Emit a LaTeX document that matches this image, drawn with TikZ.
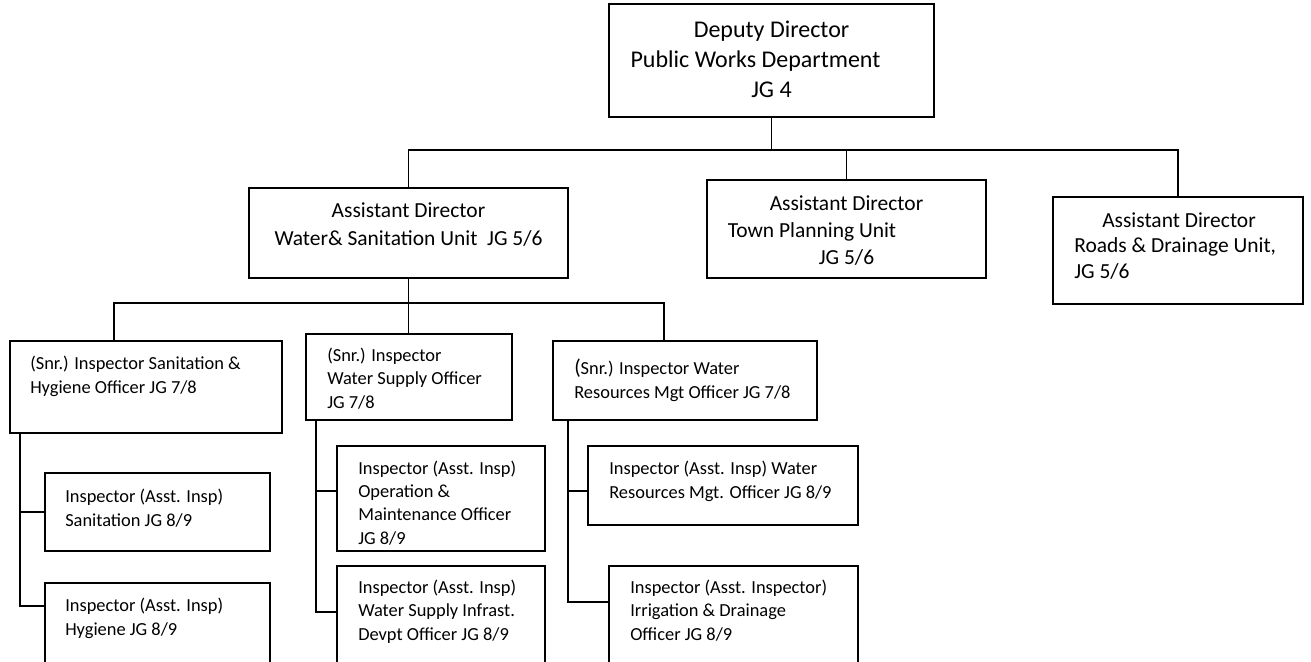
\documentclass[tikz,border=0pt]{standalone}
\usepackage{fontspec}
\setmainfont{Carlito}
\newdimen\pxu \pxu=0.75pt
% a framed box given by its corners (x1,y1) and (x2,y2), in px
\newcommand\unitbox[5]{\node[orgbox, minimum width={(#4-#2)*0.75pt}, minimum height={(#5-#3)*0.75pt}] (#1) at (#2,#3) {};}
% trailing blank space at the end of a centred line
\newcommand\trail[1]{\hspace*{#1\pxu}\mbox{}}
\begin{document}
\begin{tikzpicture}[x=0.75pt,y=-0.75pt,
  orgbox/.style={draw=black, line width=1pt, inner sep=0pt, outer sep=0pt, anchor=north west},
  link/.style={draw=black, line width=1pt},
  % multi-line texts are placed by the baseline of their last line
  toptxt/.style={inner sep=0pt, align=center, anchor=base, font=\fontsize{18}{22.5}\selectfont},
  midtxt/.style={inner sep=0pt, align=center, anchor=base},
  lowtxt/.style={inner sep=0pt, align=left, anchor=base west, font=\fontsize{13.8}{17.5}\selectfont}]
\useasboundingbox (0,0) rectangle (1311,661);
\fill[white] (0,0) rectangle (1311,661);
\begin{scope}
\clip (0,0) rectangle (1311,661);
% boxes
\unitbox{top}{609}{4}{934}{117}
\unitbox{ws}{249}{188}{568}{278}
\unitbox{tp}{707}{180}{986}{278}
\unitbox{rd}{1053}{197}{1303}{304}
\unitbox{sa}{10}{341}{282}{433}
\unitbox{sb}{306}{334}{512}{420}
\unitbox{sc}{553}{341}{817}{420}
\unitbox{ia}{45}{473}{270}{551}
\unitbox{ib}{45}{583}{270}{700}
\unitbox{ic}{337}{446}{545}{551}
\unitbox{id}{337}{566}{545}{700}
\unitbox{ie}{588}{446}{858}{525}
\unitbox{if}{609}{566}{858}{700}
% texts
\node[toptxt] (ttop) at (771.5,97) {Deputy Director\\Public Works Department\trail{32}\\JG 4};
\node[midtxt, font=\fontsize{16.1}{21}\selectfont] (tws) at (408.5,245) {Assistant Director\\Water\& Sanitation Unit\ \ JG 5/6};
\node[midtxt, font=\fontsize{16.1}{19.9}\selectfont] (ttp) at (846.5,264) {Assistant Director\\Town Planning Unit\trail{69}\\JG 5/6};
\node[midtxt, align=left, anchor=base west, font=\fontsize{16.1}{19.1}\selectfont] (trd) at (1074,278) {\hspace*{28\pxu}Assistant Director\\Roads \& Drainage Unit,\\JG 5/6};
\node[lowtxt] (tsa) at (30,393) {(Snr.) Inspector Sanitation \&\\Hygiene Officer JG 7/8};
\node[lowtxt] (tsb) at (327,408) {(Snr.) Inspector\\Water Supply Officer\\JG 7/8};
\node[lowtxt] (tsc) at (574,398) {{\fontsize{16}{17.5}\selectfont(}Snr.) Inspector Water\\Resources Mgt Officer JG 7/8};
\node[lowtxt] (tia) at (65,526) {Inspector (Asst. Insp)\\Sanitation JG 8/9};
\node[lowtxt] (tib) at (65,635) {Inspector (Asst. Insp)\\Hygiene JG 8/9};
\node[lowtxt] (tic) at (358,544) {Inspector (Asst. Insp)\\Operation \&\\Maintenance Officer\\JG 8/9};
\node[lowtxt] (tid) at (358,640) {Inspector (Asst. Insp)\\Water Supply Infrast.\\Devpt Officer JG 8/9};
\node[lowtxt] (tie) at (609,498) {Inspector (Asst. Insp) Water\\Resources Mgt. Officer JG 8/9};
\node[lowtxt] (tif) at (630,640) {Inspector (Asst. Inspector)\\Irrigation \& Drainage\\Officer JG 8/9};
% first level connectors
\path (top.south) ++(0,33) coordinate (bar1);
\draw[link] (top.south) -- (bar1);
\draw[link] (ws.north) |- (bar1) -| (rd.north);
\draw[link] (tp.north) -- (tp.north |- bar1);
% second level connectors
\path (ws.south) ++(0,25) coordinate (bar2);
\draw[link] ([shift={(104,0)}]sa.north west) |- (bar2) -| ([shift={(111,0)}]sc.north west);
\draw[link] (ws.south) -- (ws.south |- sb.north);
% third level connectors
\draw[link] ([shift={(10,0)}]sa.south west) |- (ia.west);
\draw[link] ([shift={(10,0)}]sa.south west) |- ([shift={(0,23)}]ib.north west);
\draw[link] ([shift={(10,0)}]sb.south west) |- ([shift={(0,45)}]ic.north west);
\draw[link] ([shift={(10,0)}]sb.south west) |- ([shift={(0,46)}]id.north west);
\draw[link] ([shift={(15,0)}]sc.south west) |- ([shift={(0,45)}]ie.north west);
\draw[link] ([shift={(15,0)}]sc.south west) |- ([shift={(0,36)}]if.north west);
\end{scope}
\end{tikzpicture}
\end{document}
